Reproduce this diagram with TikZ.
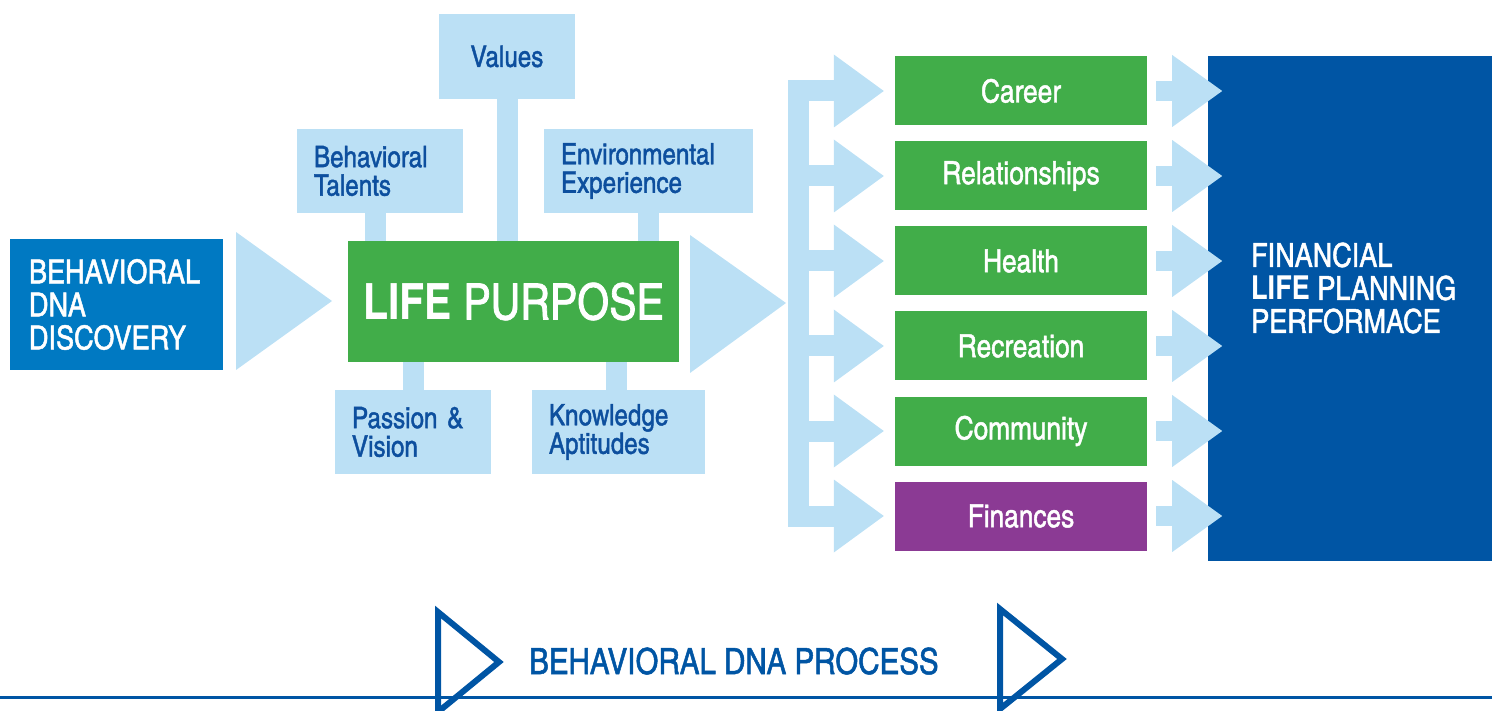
\documentclass[tikz,border=0pt]{standalone}
\usepackage{fontspec}
\setmainfont{texgyreheroscn}[Extension=.otf, UprightFont=*-regular, BoldFont=*-bold, UprightFeatures={FakeBold=1.4}]
\usepackage{tikz}

\definecolor{paleblue}{HTML}{BBE0F5}
\definecolor{midblue}{HTML}{0079C2}
\definecolor{deepblue}{HTML}{0055A4}
\definecolor{inkblue}{HTML}{0D4F9E}
\definecolor{leafgreen}{HTML}{41AD49}
\definecolor{plum}{HTML}{8B3A94}
\newcommand{\fsz}[2]{\fontsize{#1}{#2}\selectfont}
\tikzset{
  factor/.style={fill=paleblue, text=inkblue, inner sep=0pt, inner xsep=17pt, minimum height=84pt, align=left, font=\fsz{29.5}{28.5}},
  area/.style={fill=leafgreen, text=white, inner sep=0pt, minimum width=252pt, minimum height=69pt, font=\fsz{32}{32}},
  stem/.style={draw=paleblue, line width=21pt},
}

\begin{document}
\begin{tikzpicture}[x=1pt,y=-1pt]
        \useasboundingbox (0,0) rectangle (1492,711);
        \node[fill=midblue, text=white, inner sep=0pt, inner xsep=19pt, text width=175pt, minimum height=131pt, align=left, font=\fsz{33}{33}] (discovery) at (116.5,304.5) {BEHAVIORAL\\DNA\\DISCOVERY};
        \fill[paleblue] (236,232) -- (332,301) -- (236,370) -- cycle;
        \node[fill=leafgreen, text=white, inner sep=0pt, minimum width=331pt, minimum height=121pt, font=\fsz{50}{50}] (purpose) at (513.5,301.5) {\textbf{LIFE} PURPOSE};
        \node[factor, minimum width=136pt, minimum height=85pt] (values) at (507,56.5) {Values};
        \node[factor, text width=132pt] (talents) at (380,171) {Behavioral\\Talents};
        \node[factor, text width=175pt] (environment) at (648.5,171) {Environmental\\Experience};
        \node[factor, text width=122pt] (passion) at (413,432) {Passion \&\\Vision};
        \node[factor, text width=139pt] (knowledge) at (618.5,432) {Knowledge\\Aptitudes};
        \draw[stem] (values.south) -- (values.south |- purpose.north);
        \draw[stem] (375.5,0 |- talents.south) -- (375.5,0 |- purpose.north);
        \draw[stem] (environment.south) -- (environment.south |- purpose.north);
        \draw[stem] (passion.north) -- (passion.north |- purpose.south);
        \draw[stem] (616,0 |- knowledge.north) -- (616,0 |- purpose.south);
        \fill[paleblue] (690,235) -- (786,303) -- (690,373) -- cycle;

        \fill[deepblue] (1208,56) rectangle (1492,561);
        \node[anchor=west, text=white, inner sep=0pt, align=left, font=\fsz{33}{33}] (performance) at (1251,288) {FINANCIAL\\\textbf{LIFE} PLANNING\\PERFORMACE};

        \node[area] (career) at (1021,91) {Career};
        \node[area] (relations) at (1021,176) {Relationships};
        \node[area] (health) at (1021,261) {Health};
        \node[area] (recreation) at (1021,346) {Recreation};
        \node[area] (community) at (1021,431) {Community};
        \node[area, fill=plum] (finances) at (1021,516) {Finances};
        \fill[paleblue] ([xshift=-107pt,yshift=10.5pt]career.west) rectangle ([xshift=-86pt,yshift=-6pt]finances.west);
        \foreach \n in {career,relations,health,recreation,community,finances}{
          \fill[paleblue] ([xshift=-107pt,yshift=10.5pt]\n.west) rectangle ([xshift=-61pt,yshift=-10.5pt]\n.west);
          \fill[paleblue] ([xshift=-61pt,yshift=36.5pt]\n.west) -- ([xshift=-11pt]\n.west) -- ([xshift=-61pt,yshift=-36.5pt]\n.west) -- cycle;
          \fill[paleblue] ([xshift=9pt,yshift=10pt]\n.east) rectangle ([xshift=25pt,yshift=-10pt]\n.east);
          \fill[paleblue] ([xshift=25pt,yshift=36pt]\n.east) -- ([xshift=75pt]\n.east) -- ([xshift=25pt,yshift=-36pt]\n.east) -- cycle;
        }

        \draw[deepblue, line width=3pt] (0,697) -- (1492,697);
        \draw[deepblue, line width=6pt] (438,612) -- (499,662) -- (438,712) -- cycle;
        \draw[deepblue, line width=6pt] (1000,609) -- (1062,659) -- (1000,709) -- cycle;
        \node[anchor=base west, inner sep=0pt, text=deepblue, font=\fsz{36}{36}] (process) at (529,674) {BEHAVIORAL DNA PROCESS};
\end{tikzpicture}
\end{document}
